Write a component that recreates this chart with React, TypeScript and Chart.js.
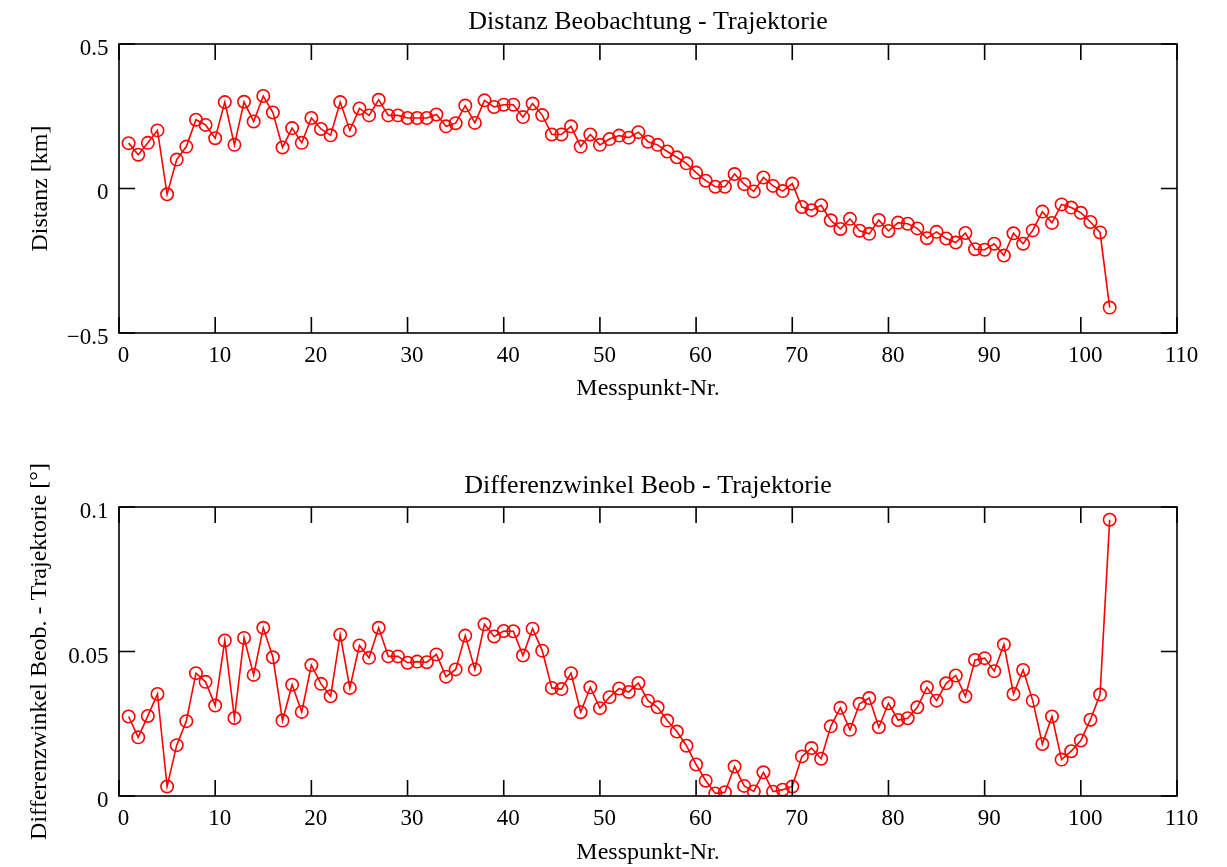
import React, { useEffect, useRef } from "react";
import { Chart, registerables } from "chart.js";

Chart.register(...registerables);

// ---------- data ----------
const messpunkte = [
  1, 2, 3, 4, 5, 6, 7, 8, 9, 10, 11, 12, 13, 14, 15, 16, 17, 18, 19, 20,
  21, 22, 23, 24, 25, 26, 27, 28, 29, 30, 31, 32, 33, 34, 35, 36, 37, 38, 39, 40,
  41, 42, 43, 44, 45, 46, 47, 48, 49, 50, 51, 52, 53, 54, 55, 56, 57, 58, 59, 60,
  61, 62, 63, 64, 65, 66, 67, 68, 69, 70, 71, 72, 73, 74, 75, 76, 77, 78, 79, 80,
  81, 82, 83, 84, 85, 86, 87, 88, 89, 90, 91, 92, 93, 94, 95, 96, 97, 98, 99, 100,
  101, 102, 103,
];

const distanzKm = [
  0.157, 0.117, 0.158, 0.201, -0.02, 0.1, 0.145, 0.238, 0.22, 0.174,
  0.299, 0.151, 0.3, 0.232, 0.32, 0.263, 0.142, 0.209, 0.158, 0.244,
  0.206, 0.184, 0.299, 0.201, 0.277, 0.253, 0.307, 0.253, 0.253, 0.244,
  0.244, 0.244, 0.256, 0.215, 0.226, 0.287, 0.227, 0.305, 0.282, 0.29,
  0.29, 0.247, 0.294, 0.254, 0.187, 0.187, 0.215, 0.145, 0.187, 0.151,
  0.171, 0.183, 0.176, 0.195, 0.162, 0.151, 0.128, 0.108, 0.087, 0.055,
  0.027, 0.006, 0.006, 0.05, 0.015, -0.01, 0.038, 0.009, -0.009, 0.017,
  -0.064, -0.075, -0.058, -0.11, -0.14, -0.105, -0.146, -0.157, -0.109, -0.147,
  -0.118, -0.122, -0.138, -0.172, -0.15, -0.173, -0.187, -0.154, -0.21, -0.212,
  -0.191, -0.232, -0.155, -0.191, -0.145, -0.08, -0.119, -0.055, -0.066, -0.084,
  -0.116, -0.152, -0.412,
];

const differenzwinkelGrad = [
  0.0275, 0.0203, 0.0277, 0.0353, 0.0033, 0.0176, 0.0259, 0.0425, 0.0395, 0.0313,
  0.0538, 0.027, 0.0547, 0.0419, 0.0582, 0.048, 0.0261, 0.0385, 0.0291, 0.0453,
  0.0388, 0.0345, 0.0558, 0.0374, 0.0521, 0.0478, 0.0582, 0.0483, 0.0483, 0.0461,
  0.0465, 0.0463, 0.049, 0.0413, 0.0438, 0.0555, 0.0438, 0.0594, 0.0552, 0.0571,
  0.057, 0.0486, 0.0579, 0.0503, 0.0374, 0.037, 0.0425, 0.029, 0.0376, 0.0304,
  0.0342, 0.0372, 0.036, 0.0391, 0.033, 0.0307, 0.0261, 0.0223, 0.0174, 0.0109,
  0.0053, 0.0009, 0.0013, 0.0102, 0.0035, 0.0016, 0.0082, 0.0015, 0.0022, 0.0033,
  0.0137, 0.0166, 0.0129, 0.0241, 0.0305, 0.0229, 0.0319, 0.0339, 0.0238, 0.0321,
  0.0263, 0.0269, 0.0307, 0.0376, 0.033, 0.039, 0.0417, 0.0345, 0.0471, 0.0477,
  0.0432, 0.0524, 0.0353, 0.0436, 0.033, 0.018, 0.0275, 0.0126, 0.0155, 0.0192,
  0.0264, 0.0351, 0.0956,
];

const xTickValues = [0, 10, 20, 30, 40, 50, 60, 70, 80, 90, 100, 110];
const xTickLabels = ["0", "10", "20", "30", "40", "50", "60", "70", "80", "90", "100", "110"];
const distTickValues = [-0.5, 0, 0.5];
const distTickLabels = ["\u22120.5", "0", "0.5"];
const winkelTickValues = [0, 0.05, 0.1];
const winkelTickLabels = ["0", "0.05", "0.1"];

// ---------- styling ----------
const FONT = "'Liberation Serif', 'Times New Roman', Times, serif";
const RED = "#ff0000";

const frameTicksPlugin = {
  id: "frameTicks",
  afterDraw(chart: any) {
    const { ctx, chartArea: a, scales } = chart;
    const TL = 16;
    ctx.save();
    ctx.strokeStyle = "#000";
    ctx.lineWidth = 1.6;
    ctx.beginPath();
    scales.x.ticks.forEach((t: any) => {
      const px = scales.x.getPixelForValue(t.value);
      ctx.moveTo(px, a.bottom);
      ctx.lineTo(px, a.bottom - TL);
      ctx.moveTo(px, a.top);
      ctx.lineTo(px, a.top + TL);
    });
    scales.y.ticks.forEach((t: any) => {
      const py = scales.y.getPixelForValue(t.value);
      ctx.moveTo(a.left, py);
      ctx.lineTo(a.left + TL, py);
      ctx.moveTo(a.right, py);
      ctx.lineTo(a.right - TL, py);
    });
    ctx.stroke();
    ctx.strokeRect(a.left, a.top, a.right - a.left, a.bottom - a.top);
    ctx.restore();
  },
};

type PanelProps = {
  top: number;
  height: number;
  title: string;
  titleBaseline: number;
  plotTop: number;
  yTitle: string;
  yTitlePad: number;
  xTitlePad: number;
  xAxisHeight: number;
  values: number[];
  yMin: number;
  yMax: number;
  yTickValues: number[];
  yTickLabels: string[];
  yLabelOffset: number;
};

function Panel(p: PanelProps) {
  const ref = useRef<HTMLCanvasElement | null>(null);

  useEffect(() => {
    if (!ref.current) return;
    const titlePlugin = {
      id: "panelTitle",
      afterDraw(chart: any) {
        const { ctx, chartArea: a } = chart;
        ctx.save();
        ctx.font = `26px ${FONT}`;
        ctx.fillStyle = "#000";
        ctx.textAlign = "center";
        ctx.textBaseline = "alphabetic";
        ctx.fillText(p.title, (a.left + a.right) / 2, p.titleBaseline);
        ctx.restore();
      },
    };
    const chart = new Chart(ref.current, {
      type: "line",
      data: {
        datasets: [
          {
            data: messpunkte.map((x, i) => ({ x, y: p.values[i] })),
            borderColor: RED,
            borderWidth: 1.6,
            pointRadius: 6.2,
            pointBorderWidth: 1.6,
            pointBorderColor: RED,
            pointBackgroundColor: "rgba(0,0,0,0)",
            pointStyle: "circle",
            tension: 0,
            fill: false,
          },
        ],
      },
      options: {
        animation: false,
        responsive: false,
        devicePixelRatio: 1,
        layout: { padding: { left: 0, right: 50, top: p.plotTop, bottom: 0 } },
        plugins: {
          legend: { display: false },
          tooltip: { enabled: false },
          title: { display: false },
        },
        scales: {
          x: {
            type: "linear",
            min: 0,
            max: 110,
            grid: { display: false, drawTicks: false },
            border: { display: false },
            afterBuildTicks: (scale: any) => {
              scale.ticks = xTickValues.map((v) => ({ value: v }));
            },
            afterFit: (scale: any) => {
              scale.height = p.xAxisHeight;
            },
            ticks: {
              autoSkip: false,
              maxRotation: 0,
              padding: 9,
              labelOffset: 4.5,
              color: "#000",
              font: { family: FONT, size: 23 },
              callback: (v: any) => {
                const i = xTickValues.indexOf(Number(v));
                return i >= 0 ? xTickLabels[i] : "";
              },
            },
            title: {
              display: true,
              text: "Messpunkt-Nr.",
              color: "#000",
              font: { family: FONT, size: 24 },
              padding: { top: 0, bottom: p.xTitlePad },
            },
          },
          y: {
            type: "linear",
            min: p.yMin,
            max: p.yMax,
            grid: { display: false, drawTicks: false },
            border: { display: false },
            afterBuildTicks: (scale: any) => {
              scale.ticks = p.yTickValues.map((v) => ({ value: v }));
            },
            afterFit: (scale: any) => {
              scale.width = 119;
            },
            ticks: {
              autoSkip: false,
              padding: 10.5,
              labelOffset: p.yLabelOffset,
              color: "#000",
              font: { family: FONT, size: 23 },
              callback: (v: any) => {
                const n = Number(v);
                const i = p.yTickValues.findIndex((t) => Math.abs(t - n) < 1e-9);
                return i >= 0 ? p.yTickLabels[i] : "";
              },
            },
            title: {
              display: true,
              text: p.yTitle,
              color: "#000",
              font: { family: FONT, size: 24 },
              padding: { top: p.yTitlePad, bottom: 0 },
            },
          },
        },
      } as any,
      plugins: [frameTicksPlugin, titlePlugin],
    });
    return () => chart.destroy();
  }, []);

  return (
    <canvas
      ref={ref}
      width={1227}
      height={p.height}
      style={{
        position: "absolute",
        left: 0,
        top: p.top,
        width: 1227,
        height: p.height,
        display: "block",
      }}
    />
  );
}

export default function App() {
  return (
    <div
      style={{
        position: "absolute",
        left: 0,
        top: 0,
        width: 1227,
        height: 867,
        background: "#fff",
        overflow: "hidden",
      }}
    >
      <Panel
        top={0}
        height={430}
        title="Distanz Beobachtung - Trajektorie"
        titleBaseline={29}
        plotTop={44}
        yTitle="Distanz [km]"
        yTitlePad={26.5}
        xTitlePad={26.5}
        xAxisHeight={97}
        values={distanzKm}
        yMin={-0.5}
        yMax={0.5}
        yTickValues={distTickValues}
        yTickLabels={distTickLabels}
        yLabelOffset={4.5}
      />
      <Panel
        top={430}
        height={437}
        title="Differenzwinkel Beob - Trajektorie"
        titleBaseline={63}
        plotTop={77}
        yTitle="Differenzwinkel Beob. - Trajektorie [°]"
        yTitlePad={25}
        xTitlePad={0}
        xAxisHeight={71}
        values={differenzwinkelGrad}
        yMin={0}
        yMax={0.1}
        yTickValues={winkelTickValues}
        yTickLabels={winkelTickLabels}
        yLabelOffset={5}
      />
    </div>
  );
}
